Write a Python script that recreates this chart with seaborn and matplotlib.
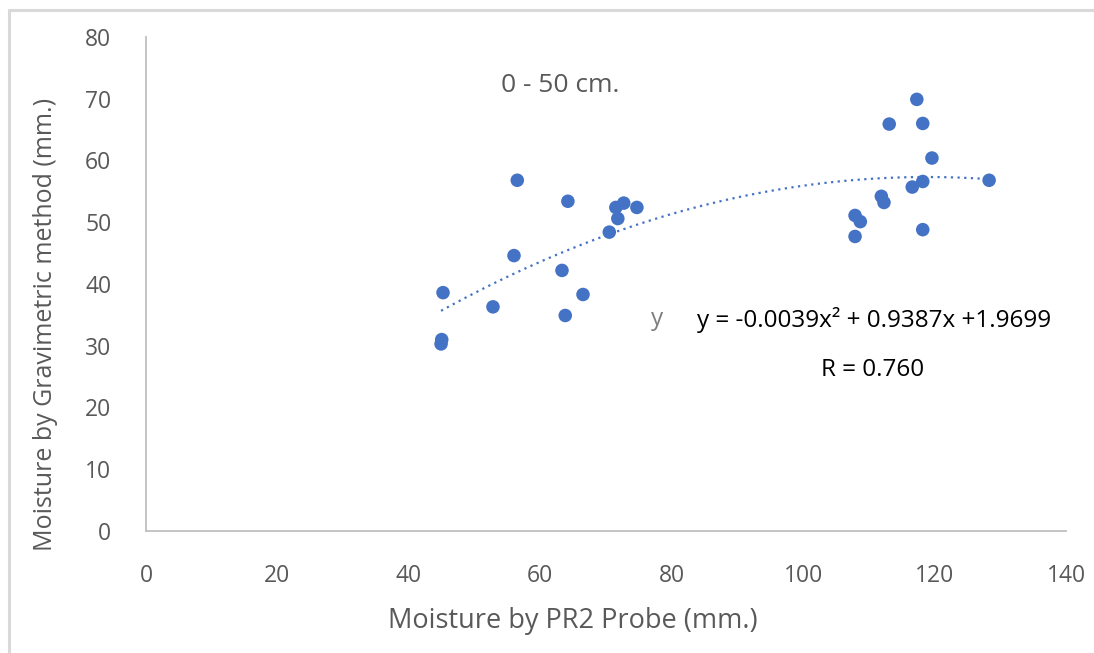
import matplotlib
matplotlib.use("Agg")
import matplotlib.pyplot as plt
from matplotlib.lines import Line2D
import seaborn as sns
import pandas as pd

# Data
probe_mm = [44.9, 45.0, 45.2, 52.8, 56.0, 56.5, 63.3, 63.8, 64.2, 66.5,
            70.5, 71.5, 71.8, 72.7, 74.7, 107.9, 107.9, 108.7, 111.9, 112.3,
            113.1, 116.6, 117.3, 118.2, 118.2, 118.2, 119.6, 128.3]
gravimetric_mm = [30.3, 31.0, 38.6, 36.3, 44.6, 56.8, 42.2, 34.9, 53.4, 38.3,
                  48.4, 52.4, 50.6, 53.1, 52.4, 47.7, 51.1, 50.1, 54.2, 53.2,
                  65.9, 55.7, 69.9, 56.6, 66.0, 48.8, 60.4, 56.8]
x_ticks = [0, 20, 40, 60, 80, 100, 120, 140]
y_ticks = [0, 10, 20, 30, 40, 50, 60, 70, 80]
title_text = "0 - 50 cm."
equation_text = "y = -0.0039x² + 0.9387x +1.9699"
r_text = "R = 0.760"
x_label = "Moisture by PR2 Probe (mm.)"
y_label = "Moisture by Gravimetric method (mm.)"

df = pd.DataFrame({"probe": probe_mm, "grav": gravimetric_mm})

sns.set_theme(style="white")
plt.rcParams["font.family"] = ["Open Sans", "DejaVu Sans"]

blue = "#4472C4"
grey_text = "#595959"

W, H = 1094, 653
fig = plt.figure(figsize=(W / 100, H / 100), dpi=100)
ax_left, ax_right, ax_top, ax_bottom = 146, 1066, 37, 531
ax = fig.add_axes([ax_left / W, 1 - ax_bottom / H,
                   (ax_right - ax_left) / W, (ax_bottom - ax_top) / H])

sns.regplot(data=df, x="probe", y="grav", order=2, ci=None, ax=ax,
            scatter_kws=dict(s=95, color=blue, edgecolor="none", alpha=1, zorder=3),
            line_kws=dict(color=blue, lw=1.6, linestyle=(0, (1, 2)), zorder=2))

ax.set_xlim(0, 140)
ax.set_ylim(0, 80)
ax.set_xticks(x_ticks)
ax.set_yticks(y_ticks)
ax.tick_params(axis="both", length=0, labelsize=16.5, labelcolor=grey_text)
ax.tick_params(axis="x", pad=24)
ax.tick_params(axis="y", pad=25)
ax.grid(False)
for side in ["top", "right"]:
    ax.spines[side].set_visible(False)
for side in ["left", "bottom"]:
    ax.spines[side].set_color("#bfbfbf")
    ax.spines[side].set_linewidth(1.3)

ax.set_xlabel(x_label, fontsize=19.5, color=grey_text)
ax.set_ylabel(y_label, fontsize=18, color=grey_text)
ax.xaxis.set_label_coords((572.5 - ax_left) / (ax_right - ax_left),
                          -(607 - ax_bottom) / (ax_bottom - ax_top))
ax.yaxis.set_label_coords(-(ax_left - 58) / (ax_right - ax_left),
                          (ax_bottom - 324) / (ax_bottom - ax_top))

ax.text(63, 72.2, title_text, fontsize=19, color=grey_text, ha="center", va="center")
ax.text(76.9, 34.4, "y", fontsize=17.5, color="#7f7f7f", ha="left", va="center")
ax.text(83.9, 34.1, equation_text, fontsize=17.5, color="#000000", ha="left", va="center")
ax.text(110.6, 26.1, r_text, fontsize=17.5, color="#000000", ha="center", va="center")

# chart frame (top and left border lines)
fig.add_artist(Line2D([8.5 / W, 1], [1 - 9.5 / H, 1 - 9.5 / H],
                      color="#d9d9d9", lw=2.2, transform=fig.transFigure))
fig.add_artist(Line2D([8.5 / W, 8.5 / W], [0, 1 - 9.5 / H],
                      color="#d9d9d9", lw=2.2, transform=fig.transFigure))

fig.savefig("out.png", dpi=100, facecolor="white")
